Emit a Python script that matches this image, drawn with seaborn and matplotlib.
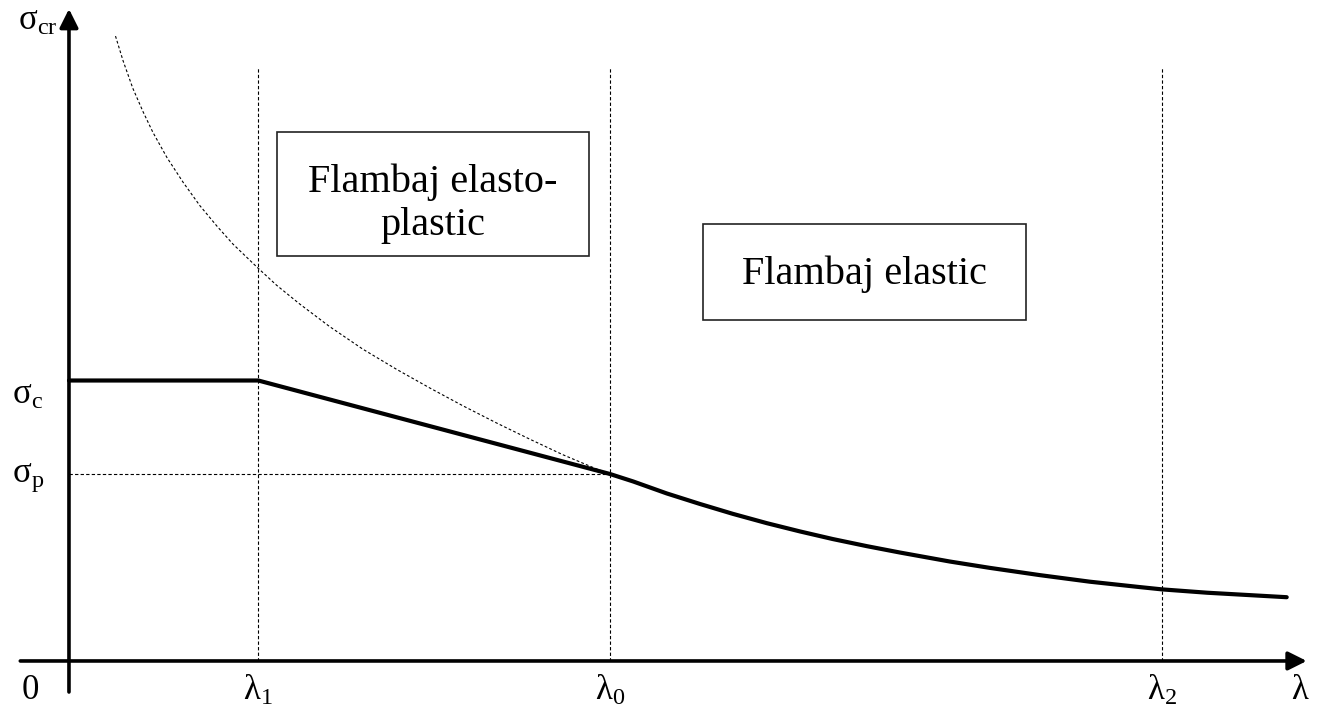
import numpy as np
import pandas as pd
import matplotlib
matplotlib.use("Agg")
import matplotlib.pyplot as plt
from matplotlib.patches import Rectangle
import seaborn as sns

# -----------------------------
# Data (slenderness lambda vs critical stress sigma_cr)
# -----------------------------
lam_1 = 35
lam_0 = 100
lam_2 = 202
sigma_c = 150
sigma_p = 100

# plastic plateau + linear elasto-plastic part
plastic_lam = [0, lam_1, lam_0]
plastic_sig = [sigma_c, sigma_c, sigma_p]

# elastic (Euler) part, solid
elastic_lam = [100, 104.3, 110.5, 116.6, 122.7, 129.0, 135.1, 141.2, 147.5, 153.6,
               162.8, 170.2, 179.5, 188.7, 198.0, 202, 210.4, 225.1]
elastic_sig = [100, 96.0, 89.6, 84.0, 78.7, 73.7, 69.3, 65.2, 61.4, 58.0,
               53.2, 49.8, 45.9, 42.4, 39.5, 38.3, 36.5, 34.1]

# Euler hyperbola continued into the plastic zone, dotted
euler_lam = [8.6, 10.0, 11.8, 13.7, 15.5, 18.1, 21.1, 24.2, 27.4, 30.3, 34.8, 38.4,
             42.7, 48.2, 54.3, 60.6, 66.7, 72.8, 79.1, 85.2, 91.3, 97.6, 100]
euler_sig = [334.2, 321.0, 306.3, 293.7, 282.8, 269.3, 256.0, 243.5, 232.4, 223.0, 210.5, 200.9,
             190.8, 178.8, 166.8, 155.9, 146.0, 136.5, 127.2, 118.6, 110.3, 102.6, 100]

vlines_lam = [lam_1, lam_0, lam_2]
vline_top = 317

df_solid = pd.DataFrame({
    "lam": plastic_lam + elastic_lam[1:],
    "sig": plastic_sig + elastic_sig[1:],
})
df_euler = pd.DataFrame({"lam": euler_lam, "sig": euler_sig})

# -----------------------------
# Figure
# -----------------------------
sns.set_style("white")
plt.rcParams["font.family"] = ["Liberation Serif", "DejaVu Serif"]
plt.rcParams["mathtext.fontset"] = "custom"
plt.rcParams["mathtext.rm"] = "Liberation Serif"
plt.rcParams["mathtext.it"] = "Liberation Serif"
plt.rcParams["text.color"] = "black"

fig = plt.figure(figsize=(13.17, 7.18), dpi=100)
ax = fig.add_axes([0, 0, 1, 1])
ax.set_xlim(-12.75, 230.7)
ax.set_ylim(-30.5, 353.5)
ax.axis("off")

# dotted guide lines
for lv in vlines_lam:
    ax.plot([lv, lv], [0, vline_top], color="black", lw=0.8, ls=(0, (3, 2)))
ax.plot([0, lam_0], [sigma_p, sigma_p], color="black", lw=0.8, ls=(0, (3, 2)))

# Euler hyperbola
sns.lineplot(data=df_euler, x="lam", y="sig", ax=ax, color="black",
             lw=0.8, linestyle=(0, (2.5, 2)), sort=False)

# critical stress curve
sns.lineplot(data=df_solid, x="lam", y="sig", ax=ax, color="black",
             lw=3.0, sort=False, solid_joinstyle="round")

# axes with arrows
arrow = dict(arrowstyle="-|>", lw=2.6, color="black", mutation_scale=28,
             shrinkA=0, shrinkB=0)
ax.annotate("", xy=(228.8, 0), xytext=(-9, 0), arrowprops=arrow)
ax.annotate("", xy=(0, 348.7), xytext=(0, -16.6), arrowprops=arrow)

# region boxes
ax.add_patch(Rectangle((38.4, 216.6), 57.7, 66.3, fill=False, lw=1.2, edgecolor="#222222"))
ax.text(67.3, 244.5, "Flambaj elasto-\nplastic", ha="center", va="center",
        fontsize=29, linespacing=1.2)
ax.add_patch(Rectangle((117.2, 182.4), 59.7, 51.3, fill=False, lw=1.2, edgecolor="#222222"))
ax.text(147, 207, "Flambaj elastic", ha="center", va="center", fontsize=29)

# axis labels
fs = 25
ax.text(-5.8, 342, r"$\mathrm{σ_{cr}}$", ha="center", va="center", fontsize=fs)
ax.text(-7.6, 142, r"$\mathrm{σ_{c}}$", ha="center", va="center", fontsize=fs)
ax.text(-7.6, 98, r"$\mathrm{σ_{p}}$", ha="center", va="center", fontsize=fs)
ax.text(-7.2, -16, "0", ha="center", va="center", fontsize=fs)
ax.text(lam_1, -16, r"$\mathrm{λ_{1}}$", ha="center", va="center", fontsize=fs)
ax.text(lam_0, -16, r"$\mathrm{λ_{0}}$", ha="center", va="center", fontsize=fs)
ax.text(lam_2, -16, r"$\mathrm{λ_{2}}$", ha="center", va="center", fontsize=fs)
ax.text(227.5, -16, "λ", ha="center", va="center", fontsize=fs)

plt.savefig("out.png", dpi=100)
